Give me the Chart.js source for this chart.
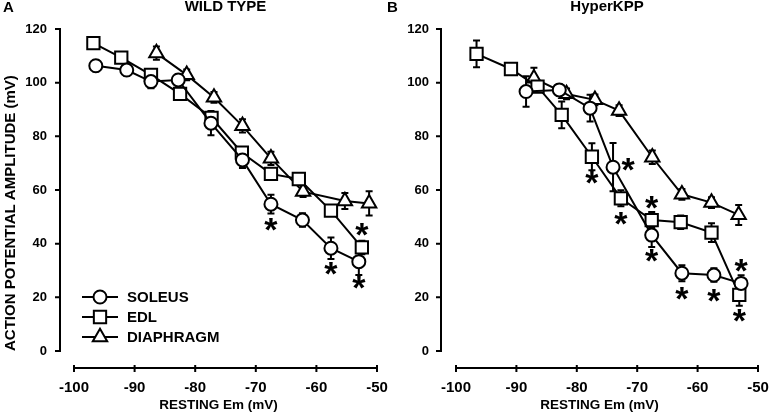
<!DOCTYPE html>
<html><head><meta charset="utf-8">
<script src="https://cdn.jsdelivr.net/npm/chart.js@4.4.0/dist/chart.umd.min.js"></script>
<style>
html,body{margin:0;padding:0;background:#fff;}
#wrap{position:relative;width:769px;height:420px;background:#fff;overflow:hidden;}
canvas{position:absolute;top:0;}
</style></head><body>
<div id="wrap"><canvas id="cA" width="400" height="420" style="left:0px"></canvas><canvas id="cB" width="385" height="420" style="left:384px"></canvas></div>
<script>
// ---------- data ----------
const panelLetters = ['A', 'B'];
const panelTitles = ['WILD TYPE', 'HyperKPP'];
const seriesNames = ['SOLEUS', 'EDL', 'DIAPHRAGM'];
const xTicks = [-100, -90, -80, -70, -60, -50];
const yTicks = [0, 20, 40, 60, 80, 100, 120];
const xTitle = 'RESTING Em (mV)';
const yTitle = 'ACTION POTENTIAL AMPLITUDE (mV)';

// Wild type
const wtSoleusX = [-96.4, -91.3, -87.3, -82.8, -77.4, -72.2, -67.5, -62.3, -57.6, -53.0];
const wtSoleusY = [106.3, 104.7, 100.4, 101.0, 84.9, 71.2, 54.7, 48.8, 38.3, 33.3];
const wtSoleusErr = [2, 2, 2.5, 2, 4.5, 3, 3.5, 2.5, 4, 5];
const wtEdlX = [-96.8, -92.2, -87.3, -82.5, -77.3, -72.3, -67.5, -62.9, -57.6, -52.5];
const wtEdlY = [114.7, 109.3, 102.9, 95.8, 86.9, 73.9, 66.0, 64.1, 52.3, 38.6];
const wtEdlErr = [1.5, 1.5, 2, 2, 2, 2, 2, 2, 2, 2.5];
const wtDiaX = [-86.4, -81.4, -76.9, -72.2, -67.5, -62.2, -55.3, -51.3];
const wtDiaY = [111.0, 102.9, 94.5, 83.9, 71.8, 59.4, 55.9, 55.0];
const wtDiaErr = [2.5, 2, 2, 2.5, 2.5, 2, 3, 4.5];

// HyperKPP
const hkSoleusX = [-88.4, -82.9, -77.8, -74.0, -67.6, -62.6, -57.3, -52.8];
const hkSoleusY = [96.7, 97.3, 90.5, 68.5, 43.2, 29.0, 28.3, 25.2];
const hkSoleusErr = [5.7, 2, 5, 9, 4.4, 3, 2.5, 3];
const hkEdlX = [-96.6, -90.9, -86.5, -82.5, -77.5, -72.7, -67.6, -62.8, -57.7, -53.1];
const hkEdlY = [110.7, 105.1, 98.5, 88.0, 72.4, 56.9, 48.8, 48.0, 44.1, 20.9];
const hkEdlErr = [5, 1, 1.5, 5, 5, 3, 3, 2.5, 3.5, 4];
const hkDiaX = [-87.1, -81.7, -77.0, -73.0, -67.5, -62.6, -57.7, -53.2];
const hkDiaY = [101.6, 95.8, 93.6, 89.6, 72.2, 58.4, 55.3, 50.7];
const hkDiaErr = [4, 2, 2, 2, 2.5, 2, 2, 3.7];

// significance markers: [series index, point index, side]
const wtStars = [[0, 6, 'below'], [0, 8, 'below'], [0, 9, 'below'], [1, 9, 'above']];
const hkStars = [[1, 4, 'below'], [0, 3, 'right'], [1, 5, 'below'], [1, 6, 'above'], [0, 4, 'below'],
                 [0, 5, 'below'], [0, 6, 'below'], [0, 7, 'above'], [1, 9, 'below']];

// ---------- styling / helpers ----------
const FONT = '"Liberation Sans", Arial, Helvetica, sans-serif';
const STAR_SIZE = 34;
const styles = [
  {pointStyle: 'circle', radius: 6.5},
  {pointStyle: 'rect', radius: 8.7},
  {pointStyle: 'triangle', radius: 8.3}
];
const pts = (xs, ys) => xs.map((x, i) => ({x: x, y: ys[i]}));

function makeDatasets(xsArr, ysArr) {
  return xsArr.map((xs, i) => ({
    label: seriesNames[i],
    data: pts(xs, ysArr[i]),
    borderColor: '#000',
    borderWidth: 2,
    backgroundColor: '#fff',
    pointStyle: styles[i].pointStyle,
    pointRadius: styles[i].radius,
    pointHoverRadius: styles[i].radius,
    pointBackgroundColor: '#fff',
    pointBorderColor: '#000',
    pointBorderWidth: 2,
    tension: 0,
    fill: false,
    clip: false
  }));
}

const decor = {
  id: 'decor',
  beforeDatasetsDraw(chart, args, o) {
    const ctx = chart.ctx, xs = chart.scales.x, ys = chart.scales.y;
    ctx.save();
    ctx.strokeStyle = '#000'; ctx.lineWidth = 2;
    chart.data.datasets.forEach((ds, i) => {
      const err = o.errors[i];
      ds.data.forEach((p, j) => {
        const px = xs.getPixelForValue(p.x);
        const top = ys.getPixelForValue(p.y + err[j]);
        const bot = ys.getPixelForValue(p.y - err[j]);
        ctx.beginPath();
        ctx.moveTo(px, top); ctx.lineTo(px, bot);
        ctx.moveTo(px - 3.5, top); ctx.lineTo(px + 3.5, top);
        ctx.moveTo(px - 3.5, bot); ctx.lineTo(px + 3.5, bot);
        ctx.stroke();
      });
    });
    ctx.restore();
  },
  afterDraw(chart, args, o) {
    const ctx = chart.ctx, xs = chart.scales.x, ys = chart.scales.y, ca = chart.chartArea;
    ctx.save();
    ctx.strokeStyle = '#000'; ctx.fillStyle = '#000'; ctx.lineWidth = 2;
    // y axis (offset)
    const ax = ca.left - o.yGap;
    ctx.beginPath();
    ctx.moveTo(ax, ys.getPixelForValue(yTicks[0]) + 1);
    ctx.lineTo(ax, ys.getPixelForValue(yTicks[yTicks.length - 1]) - 1);
    yTicks.forEach(v => { const py = ys.getPixelForValue(v); ctx.moveTo(ax - 5, py); ctx.lineTo(ax, py); });
    ctx.stroke();
    // x axis (offset)
    const ay = ca.bottom + o.xGap;
    ctx.beginPath();
    ctx.moveTo(xs.getPixelForValue(xTicks[0]) - 1, ay);
    ctx.lineTo(xs.getPixelForValue(xTicks[xTicks.length - 1]) + 1, ay);
    xTicks.forEach(v => { const px = xs.getPixelForValue(v); ctx.moveTo(px, ay - 3); ctx.lineTo(px, ay + 4); });
    ctx.stroke();
    // panel letter & title
    ctx.font = 'bold 15px ' + FONT;
    ctx.textBaseline = 'middle';
    ctx.textAlign = 'left';
    ctx.fillText(o.letter, 3, 8);
    ctx.textAlign = 'center';
    ctx.fillText(o.title, (ca.left + ca.right) / 2, 7);
    // x axis title (centred between y-axis line and right end)
    ctx.font = 'bold 13.5px ' + FONT;
    ctx.fillText(xTitle, (ax + ca.right) / 2, 405);
    // stars
    ctx.font = 'bold ' + STAR_SIZE + 'px ' + FONT;
    ctx.textBaseline = 'alphabetic';
    ctx.textAlign = 'center';
    const cOff = 0.44 * STAR_SIZE;
    o.stars.forEach(s => {
      const p = chart.data.datasets[s[0]].data[s[1]];
      let px = xs.getPixelForValue(p.x), py = ys.getPixelForValue(p.y);
      if (s[2] === 'below') py += 22;
      else if (s[2] === 'above') py -= 16;
      else if (s[2] === 'right') { px += 15; py -= 1; }
      ctx.fillText('*', px, py + cOff);
    });
    // legend
    if (o.legend) {
      ctx.font = 'bold 15px ' + FONT;
      ctx.textAlign = 'left';
      ctx.textBaseline = 'middle';
      chart.data.datasets.forEach((ds, i) => {
        const y = o.legend.y + i * o.legend.step;
        const x0 = o.legend.x;
        ctx.beginPath(); ctx.moveTo(x0, y); ctx.lineTo(x0 + 36, y); ctx.stroke();
        ctx.fillStyle = '#fff';
        Chart.helpers.drawPoint(ctx, {pointStyle: styles[i].pointStyle, radius: styles[i].radius, rotation: 0, borderWidth: 2}, x0 + 18, y);
        ctx.fillStyle = '#000';
        ctx.fillText(ds.label, x0 + 45, y + 1);
      });
    }
    ctx.restore();
  }
};

function zeroPad(s) { s.paddingLeft = 0; s.paddingRight = 0; s.paddingTop = 0; s.paddingBottom = 0; }

function makeChart(id, idx, xsArr, ysArr, errs, stars, cfg) {
  return new Chart(document.getElementById(id), {
    type: 'line',
    data: {datasets: makeDatasets(xsArr, ysArr)},
    plugins: [decor],
    options: {
      responsive: false,
      animation: false,
      events: [],
      layout: {autoPadding: false, padding: {top: 29, right: cfg.padRight, left: 0, bottom: 0}},
      plugins: {
        legend: {display: false},
        tooltip: {enabled: false},
        decor: {
          letter: panelLetters[idx], title: panelTitles[idx], errors: errs, stars: stars,
          yGap: cfg.yGap, xGap: 17, legend: cfg.legend
        }
      },
      scales: {
        x: {
          type: 'linear', min: xTicks[0], max: xTicks[xTicks.length - 1],
          afterBuildTicks: s => { s.ticks = xTicks.map(v => ({value: v})); },
          afterFit: s => { s.height = 69; zeroPad(s); },
          grid: {display: false, drawTicks: false},
          border: {display: false},
          ticks: {color: '#000', padding: 28, font: {family: FONT, size: 15, weight: 'bold'}, maxRotation: 0},
          title: {display: false}
        },
        y: {
          type: 'linear', min: yTicks[0], max: yTicks[yTicks.length - 1],
          afterBuildTicks: s => { s.ticks = yTicks.map(v => ({value: v})); },
          afterFit: s => { s.width = cfg.yWidth; zeroPad(s); },
          grid: {display: false, drawTicks: false},
          border: {display: false},
          ticks: {color: '#000', padding: 27, font: {family: FONT, size: 13, weight: 'bold'}},
          title: {display: cfg.yTitle, text: yTitle, color: '#000', align: 'start', padding: {top: 2, bottom: 0},
                  font: {family: FONT, size: 15, weight: 'bold'}}
        }
      }
    }
  });
}

makeChart('cA', 0, [wtSoleusX, wtEdlX, wtDiaX], [wtSoleusY, wtEdlY, wtDiaY],
  [wtSoleusErr, wtEdlErr, wtDiaErr], wtStars,
  {padRight: 23, yWidth: 74, yGap: 14, yTitle: true, legend: {x: 82, y: 297, step: 20}});
makeChart('cB', 1, [hkSoleusX, hkEdlX, hkDiaX], [hkSoleusY, hkEdlY, hkDiaY],
  [hkSoleusErr, hkEdlErr, hkDiaErr], hkStars,
  {padRight: 11, yWidth: 72, yGap: 15, yTitle: false, legend: null});
</script>
</body></html>
